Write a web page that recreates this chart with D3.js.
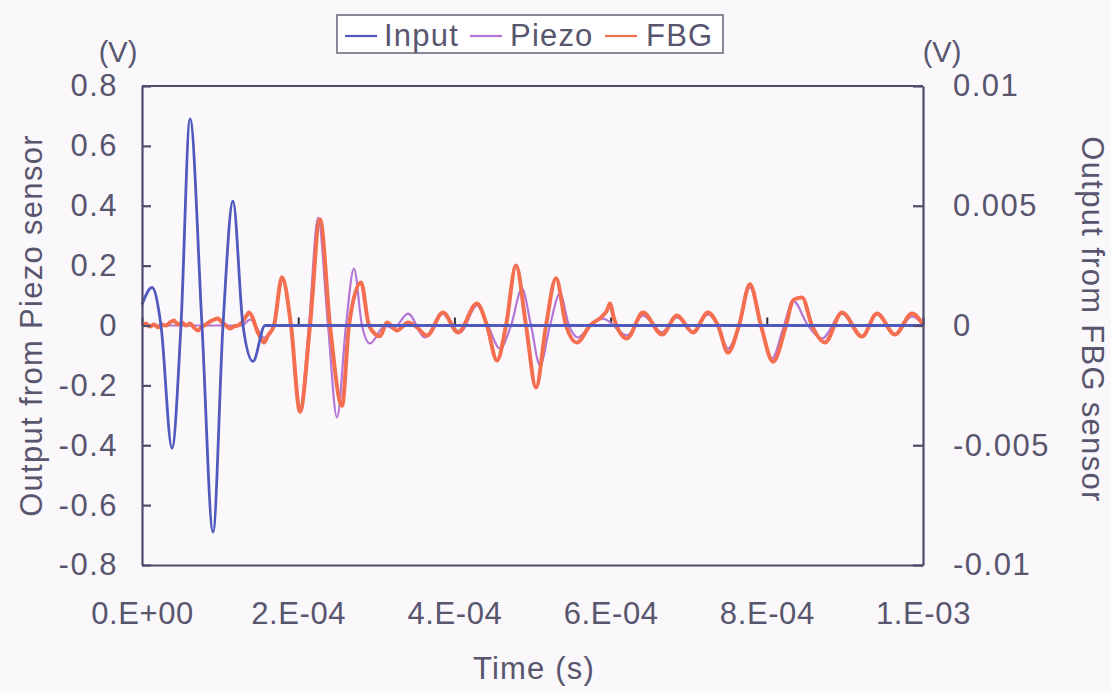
<!DOCTYPE html>
<html>
<head>
<meta charset="utf-8">
<script src="https://cdn.jsdelivr.net/npm/d3@7"></script>
<style>
  body { margin: 0; background: #fbf8fb; }
  svg text { font-family: "Liberation Sans", Arial, sans-serif; fill: #58566e; }
</style>
</head>
<body>
<script>
// time in microseconds
const inputT = [0, 12.8, 24.3, 38.4, 49.9, 61.5, 76.8, 90.9, 103.7, 116.5, 129.3, 142.1, 157.5, 175, 1000];
const inputV = [0.07, 0.127, 0, -0.41, 0, 0.69, 0, -0.69, 0, 0.415, 0, -0.12, 0, 0, 0];

const piezoT = [0, 128, 138.3, 156.2, 169.0, 179.3, 190.8, 202.3, 213.8, 225.4, 238.2, 249.7, 261.2, 271.4, 281.7,
  291.9, 311.1, 322.0, 340.6, 362.4, 384.1, 407.2, 428.9, 443.0, 458.4, 472.5, 486.6, 498.1, 509.6, 522.4,
  535.2, 546.7, 558.3, 573.6, 590.3, 621.0, 641.5, 665.8, 685.0, 705.5, 724.7, 737.5, 750.3, 764.4, 778.4,
  792.5, 806.7, 822.0, 833.5, 852.8, 870.7, 896.3, 921.9, 941.1, 964.1, 985.9, 1000];
const piezoV = [0, 0, 0.02, -0.04, 0, 0.157, 0, -0.277, 0, 0.36, 0, -0.307, 0, 0.19, 0,
  -0.06, 0, -0.01, 0.04, -0.04, 0.04, -0.023, 0.067, 0, -0.077, 0, 0.123, 0, -0.133, 0,
  0.107, 0, -0.04, 0, 0.023, -0.033, 0.033, -0.023, 0.027, -0.02, 0.037, 0, -0.077, 0, 0.127,
  0, -0.11, 0, 0.083, 0, -0.043, 0.04, -0.037, 0.037, -0.03, 0.03, 0.003];

// FBG output in mV (right axis is in V)
const fbgT = [0, 5.1, 10.2, 15.4, 20.5, 25.6, 30.7, 35.9, 41.0, 46.1, 51.2, 56.3, 61.5, 66.6, 71.7,
  76.8, 81.9, 87.1, 92.2, 97.3, 102.4, 107.6, 112.7, 117.8, 122.9, 128.0, 133.2, 137.0, 142.1, 147.2,
  152.4, 156.2, 161.3, 169.0, 179.3, 190.8, 202.3, 215.1, 227.9, 240.7, 256.1, 265.0, 280.4, 290.7, 304.7,
  313.7, 326.5, 340.6, 350.8, 364.9, 385.4, 404.6, 428.9, 441.7, 454.5, 466.1, 478.9, 491.7, 504.5, 517.3,
  530.1, 542.9, 557.0, 573.6, 590.3, 595.4, 599.2, 604.3, 621.0, 641.5, 665.8, 685.0, 705.5, 724.7, 737.5,
  750.3, 764.4, 778.4, 792.5, 807.9, 824.6, 833.5, 838.7, 845.1, 857.9, 874.5, 896.3, 921.9, 941.1, 964.1,
  985.9, 1000];
const fbgMV = [0, 0.08, -0.04, 0.04, -0.08, 0.04, 0, 0.13, 0.21, 0.04, 0.13, 0, 0.08, -0.08, -0.21,
  -0.04, 0.04, 0.17, 0.25, 0.29, 0.13, 0, -0.13, -0.04, 0, 0.13, 0.38, 0.54, 0.29, -0.21,
  -0.54, -0.71, -0.42, 0, 2.01, 0, -3.60, 0, 4.44, 0, -3.35, 0, 1.80, 0, -0.45,
  0.13, -0.21, 0.13, -0.04, -0.42, 0.54, -0.29, 0.92, 0, -1.46, 0, 2.51, 0, -2.59, 0,
  1.97, 0, -0.71, 0, 0.42, 0.63, 0.92, 0.29, -0.54, 0.54, -0.38, 0.42, -0.29, 0.54, 0,
  -1.13, 0, 1.72, 0, -1.51, 0, 1.05, 1.13, 1.17, 0, -0.71, 0.54, -0.46, 0.50, -0.38,
  0.50, 0.04];

const leftTicks = [0.8, 0.6, 0.4, 0.2, 0, -0.2, -0.4, -0.6, -0.8];
const rightTicks = [0.01, 0.005, 0, -0.005, -0.01];
const xTicks = [0, 2e-4, 4e-4, 6e-4, 8e-4, 1e-3];
const xTickLabels = ["0.E+00", "2.E-04", "4.E-04", "6.E-04", "8.E-04", "1.E-03"];

const W = 1111, H = 692;
const PLOT = { LEFT: 142, RIGHT: 923, TOP: 86, BOTTOM: 565 };
const AXIS_COLOR = "#4e4c6c";
const TEXT_COLOR = "#5a5872";

const svg = d3.select("body").append("svg")
  .attr("width", W)
  .attr("height", H);

svg.append("rect").attr("width", W).attr("height", H).attr("fill", "#fbf8fb");

const x = d3.scaleLinear().domain([0, 1e-3]).range([PLOT.LEFT, PLOT.RIGHT]);
const yL = d3.scaleLinear().domain([-0.8, 0.8]).range([PLOT.BOTTOM, PLOT.TOP]);
const yR = d3.scaleLinear().domain([-0.01, 0.01]).range([PLOT.BOTTOM, PLOT.TOP]);

const inputData = d3.zip(inputT, inputV).map(d => [d[0] * 1e-6, d[1]]);
const piezoData = d3.zip(piezoT, piezoV).map(d => [d[0] * 1e-6, d[1]]);
const fbgData = d3.zip(fbgT, fbgMV).map(d => [d[0] * 1e-6, d[1] / 1000]);

function styleAxis(g) {
  g.selectAll(".domain").attr("stroke", AXIS_COLOR).attr("stroke-width", 2.2);
  g.selectAll(".tick line").attr("stroke", AXIS_COLOR).attr("stroke-width", 2.2);
  g.selectAll("text")
    .attr("font-size", 31)
    .attr("letter-spacing", 1.5)
    .attr("fill", TEXT_COLOR);
}

// x tick marks on the zero line
svg.append("g")
  .attr("transform", `translate(0,${yL(0)})`)
  .call(d3.axisTop(x).tickValues(xTicks).tickSize(8).tickFormat(""))
  .call(g => g.select(".domain").remove())
  .call(g => g.selectAll(".tick line").attr("stroke", "#2e2c3a").attr("stroke-width", 2));

// series
const lineL = d3.line().x(d => x(d[0])).y(d => yL(d[1])).curve(d3.curveMonotoneX);
const lineR = d3.line().x(d => x(d[0])).y(d => yR(d[1])).curve(d3.curveMonotoneX);

svg.append("path").datum(piezoData)
  .attr("d", lineL).attr("fill", "none")
  .attr("stroke", "#b476d6").attr("stroke-width", 2.2);

svg.append("path").datum(fbgData)
  .attr("d", lineR).attr("fill", "none")
  .attr("stroke", "#f36f4f").attr("stroke-width", 4)
  .attr("stroke-linejoin", "round");

svg.append("path").datum(inputData)
  .attr("d", lineL).attr("fill", "none")
  .attr("stroke", "#5059be").attr("stroke-width", 2.8);

// frame
svg.append("line")
  .attr("x1", PLOT.LEFT).attr("x2", PLOT.RIGHT)
  .attr("y1", PLOT.TOP).attr("y2", PLOT.TOP)
  .attr("stroke", AXIS_COLOR).attr("stroke-width", 2.2);

// left axis
svg.append("g")
  .attr("transform", `translate(${PLOT.LEFT},0)`)
  .call(d3.axisLeft(yL).tickValues(leftTicks).tickSize(-9).tickSizeOuter(0).tickPadding(24)
    .tickFormat(d => d === 0 ? "0" : d3.format(".1f")(d).replace("−", "-")))
  .call(styleAxis);

// right axis
svg.append("g")
  .attr("transform", `translate(${PLOT.RIGHT},0)`)
  .call(d3.axisRight(yR).tickValues(rightTicks).tickSize(-10).tickSizeOuter(0).tickPadding(30)
    .tickFormat(d => String(d)))
  .call(styleAxis);

// bottom axis (labels)
svg.append("g")
  .attr("transform", `translate(0,${PLOT.BOTTOM})`)
  .call(d3.axisBottom(x).tickValues(xTicks).tickSize(0).tickSizeOuter(0).tickPadding(37)
    .tickFormat((d, i) => xTickLabels[i]))
  .call(styleAxis)
  .call(g => g.selectAll("text").attr("letter-spacing", 0.6));

// axis titles
svg.append("text")
  .attr("transform", `translate(31,${(PLOT.TOP + PLOT.BOTTOM) / 2}) rotate(-90)`)
  .attr("text-anchor", "middle").attr("dominant-baseline", "central")
  .attr("font-size", 31).attr("letter-spacing", 1.3).attr("fill", "#67657c")
  .text("Output from Piezo sensor");

svg.append("text")
  .attr("transform", `translate(1092,${(PLOT.TOP + PLOT.BOTTOM) / 2 - 6}) rotate(90)`)
  .attr("text-anchor", "middle").attr("dominant-baseline", "central")
  .attr("font-size", 31).attr("letter-spacing", 1.3).attr("fill", "#67657c")
  .text("Output from FBG sensor");

svg.append("text")
  .attr("x", 534).attr("y", 679)
  .attr("text-anchor", "middle")
  .attr("font-size", 31).attr("letter-spacing", 1.2).attr("fill", "#67657c")
  .text("Time (s)");

svg.append("text").attr("x", 118).attr("y", 62).attr("text-anchor", "middle")
  .attr("font-size", 29).attr("fill", TEXT_COLOR).text("(V)");
svg.append("text").attr("x", 942).attr("y", 62).attr("text-anchor", "middle")
  .attr("font-size", 29).attr("fill", TEXT_COLOR).text("(V)");

// legend
const legendItems = [
  { name: "Input", color: "#5059be", x: 345, tx: 384 },
  { name: "Piezo", color: "#b476d6", x: 470, tx: 510 },
  { name: "FBG", color: "#f36f4f", x: 605, tx: 646 },
];
const legend = svg.append("g");
legend.append("rect")
  .attr("x", 337).attr("y", 15).attr("width", 386).attr("height", 38)
  .attr("fill", "#ffffff").attr("stroke", "#6e6c80").attr("stroke-width", 1.6);
legend.selectAll("line").data(legendItems).enter().append("line")
  .attr("x1", d => d.x).attr("x2", d => d.x + 32)
  .attr("y1", 36).attr("y2", 36)
  .attr("stroke", d => d.color).attr("stroke-width", 2.2);
legend.selectAll("text").data(legendItems).enter().append("text")
  .attr("x", d => d.tx).attr("y", 46)
  .attr("font-size", 31).attr("letter-spacing", 1.2).attr("fill", TEXT_COLOR)
  .text(d => d.name);
</script>
</body>
</html>
